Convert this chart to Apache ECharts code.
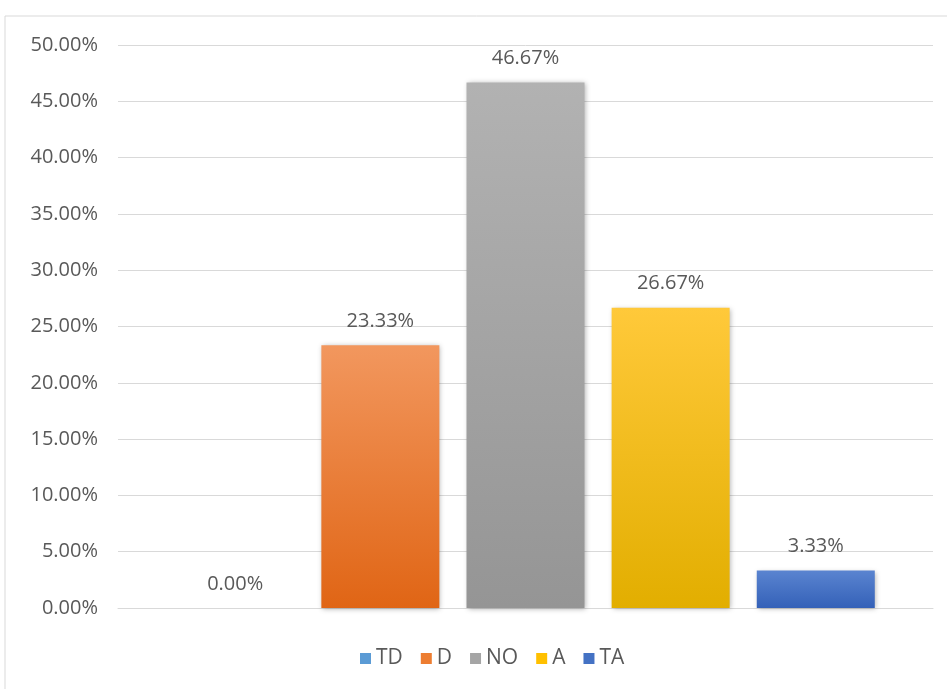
<!DOCTYPE html>
<html><head><meta charset="utf-8">
<script src="https://cdn.jsdelivr.net/npm/echarts@6/dist/echarts.min.js"></script>
<style>html,body{margin:0;padding:0;background:#fff}#c{width:947px;height:689px}</style>
</head><body><div id="c"></div>
<script>
const seriesNames = ['TD', 'D', 'NO', 'A', 'TA'];
const seriesValues = [0.00, 23.33, 46.67, 26.67, 3.33];
const yTicks = [0, 5, 10, 15, 20, 25, 30, 35, 40, 45, 50];
const topColors = ['#6AA6DC', '#F2975E', '#B2B2B2', '#FFC93A', '#5A84D0'];
const bottomColors = ['#4A88C2', '#E06515', '#959595', '#E2AE00', '#3461B8'];
const legendColors = ['#5B9BD5', '#ED7D31', '#A5A5A5', '#FFC000', '#4472C4'];

const font = 'Open Sans';
const chart = echarts.init(document.getElementById('c'));
chart.setOption({
  animation: false,
  graphic: [{type: 'rect', shape: {x: 5, y: 16, width: 980, height: 720}, style: {fill: 'none', stroke: '#D9D9D9', lineWidth: 1}, silent: true}],
  grid: {left: 118, right: 14, top: 45, bottom: 81, containLabel: false},
  legend: {
    bottom: 15, left: 355, itemWidth: 11, itemHeight: 11, itemGap: 18,
    icon: 'rect',
    textStyle: {color: '#595959', fontSize: 21, fontFamily: font},
    data: seriesNames.map((n, i) => ({name: n, itemStyle: {color: legendColors[i]}}))
  },
  xAxis: {type: 'category', data: [''], axisLine: {lineStyle: {color: '#D9D9D9'}}, axisTick: {show: false}, axisLabel: {show: false}},
  yAxis: {
    type: 'value', min: 0, max: 50, interval: 5,
    axisLine: {show: false}, axisTick: {show: false},
    splitLine: {lineStyle: {color: '#D9D9D9'}},
    axisLabel: {color: '#595959', fontSize: 20, fontFamily: font, margin: 20, formatter: v => v.toFixed(2) + '%'}
  },
  series: seriesNames.map((n, i) => ({
    name: n, type: 'bar', data: [seriesValues[i]],
    barWidth: 118, barGap: '23%',
    itemStyle: {
      color: new echarts.graphic.LinearGradient(0, 0, 0, 1, [{offset: 0, color: topColors[i]}, {offset: 1, color: bottomColors[i]}]),
      shadowColor: 'rgba(0,0,0,0.3)', shadowBlur: 5, shadowOffsetX: 1, shadowOffsetY: 1
    },
    label: {show: true, position: 'top', distance: 14, color: '#595959', fontSize: 20, fontFamily: font, formatter: p => p.value.toFixed(2) + '%'}
  }))
});
</script></body></html>
